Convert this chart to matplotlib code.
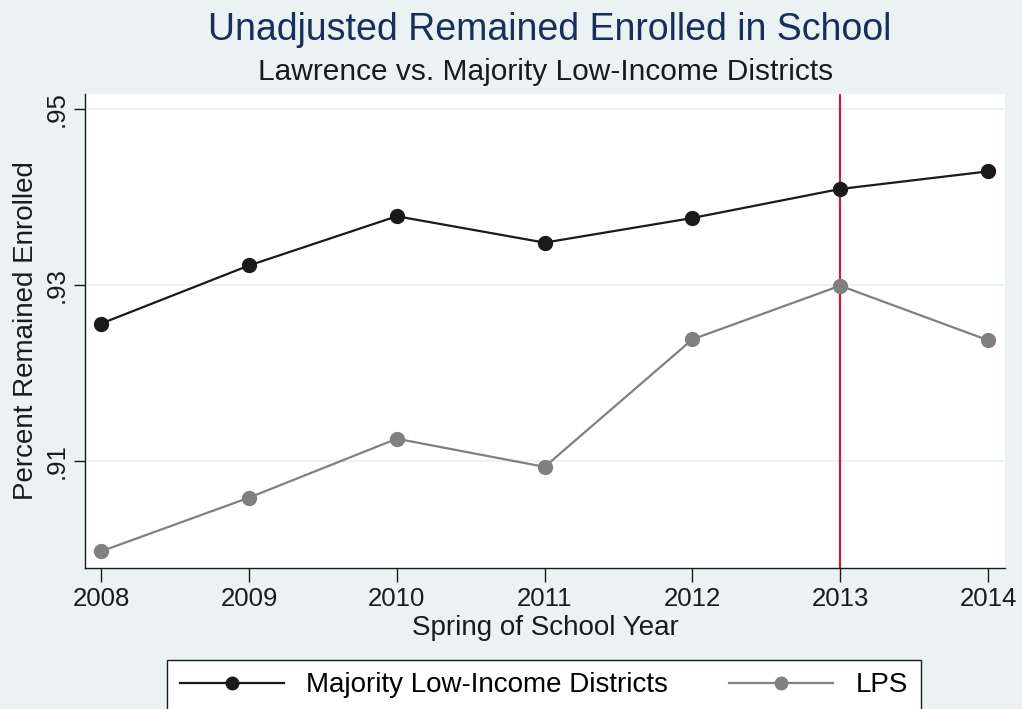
import matplotlib.pyplot as plt

plt.rcParams['font.family'] = ['Liberation Sans', 'DejaVu Sans']

years = [2008, 2009, 2010, 2011, 2012, 2013, 2014]
majority = [0.9256, 0.9322, 0.9378, 0.9348, 0.9376, 0.9409, 0.9429]
lps = [0.8997, 0.9058, 0.9125, 0.9093, 0.9238, 0.9299, 0.9237]
y_ticks = [0.91, 0.93, 0.95]
y_ticklabels = ['.91', '.93', '.95']
policy_year = 2013

bg = '#eaf2f3'
fig = plt.figure(figsize=(10.22, 7.09), dpi=100, facecolor=bg)
ax = fig.add_axes([85 / 1022, 1 - 568 / 709, 920 / 1022, 474 / 709])
ax.set_facecolor('white')

for y in y_ticks:
    ax.axhline(y, color=bg, lw=1.6, zorder=0)
ax.axvline(policy_year, color='#c41e3a', lw=1.6, zorder=1)

ax.plot(years, majority, color='#1a1a1a', lw=1.6, marker='o', ms=10,
        label='Majority Low-Income Districts', zorder=3)
ax.plot(years, lps, color='#808080', lw=1.6, marker='o', ms=10,
        label='LPS', zorder=3)

ax.set_xlim(2007.89, 2014.115)
ax.set_ylim(0.8978, 0.9517)
ax.set_xticks(years)
ax.set_yticks(y_ticks)
ax.set_yticklabels(y_ticklabels, rotation=90, va='center')
ax.tick_params(axis='both', labelsize=18.5, colors='#1a1a1a',
               length=8, width=1.0, direction='out')
ax.tick_params(axis='x', length=10)
for s in ['top', 'right']:
    ax.spines[s].set_visible(False)
for s in ['left', 'bottom']:
    ax.spines[s].set_color('#1a1a1a')
    ax.spines[s].set_linewidth(1.0)

ax.set_xlabel('Spring of School Year', fontsize=20, color='#1a1a1a',
              labelpad=3)
ax.set_ylabel('Percent Remained Enrolled', fontsize=20, color='#1a1a1a',
              labelpad=4)

fig.text(0.538, 1 - 30 / 709, 'Unadjusted Remained Enrolled in School',
         ha='center', va='center', fontsize=27, color='#1a2e5a')
fig.text(0.534, 1 - 72 / 709, 'Lawrence vs. Majority Low-Income Districts',
         ha='center', va='center', fontsize=21.5, color='#1a1a1a')

leg = fig.legend(loc='upper center', bbox_to_anchor=(544 / 1022, 1 - 660 / 709),
                 ncol=2, fontsize=20, frameon=True, fancybox=False,
                 handlelength=3.75, handletextpad=0.8, columnspacing=2.2,
                 borderpad=0.45, borderaxespad=0, markerscale=0.9)
leg.get_frame().set_edgecolor('#1a1a1a')
leg.get_frame().set_linewidth(1.0)
leg.get_frame().set_facecolor('white')
leg.get_frame().set_alpha(1)

fig.savefig('out.png', dpi=100, facecolor=bg)
